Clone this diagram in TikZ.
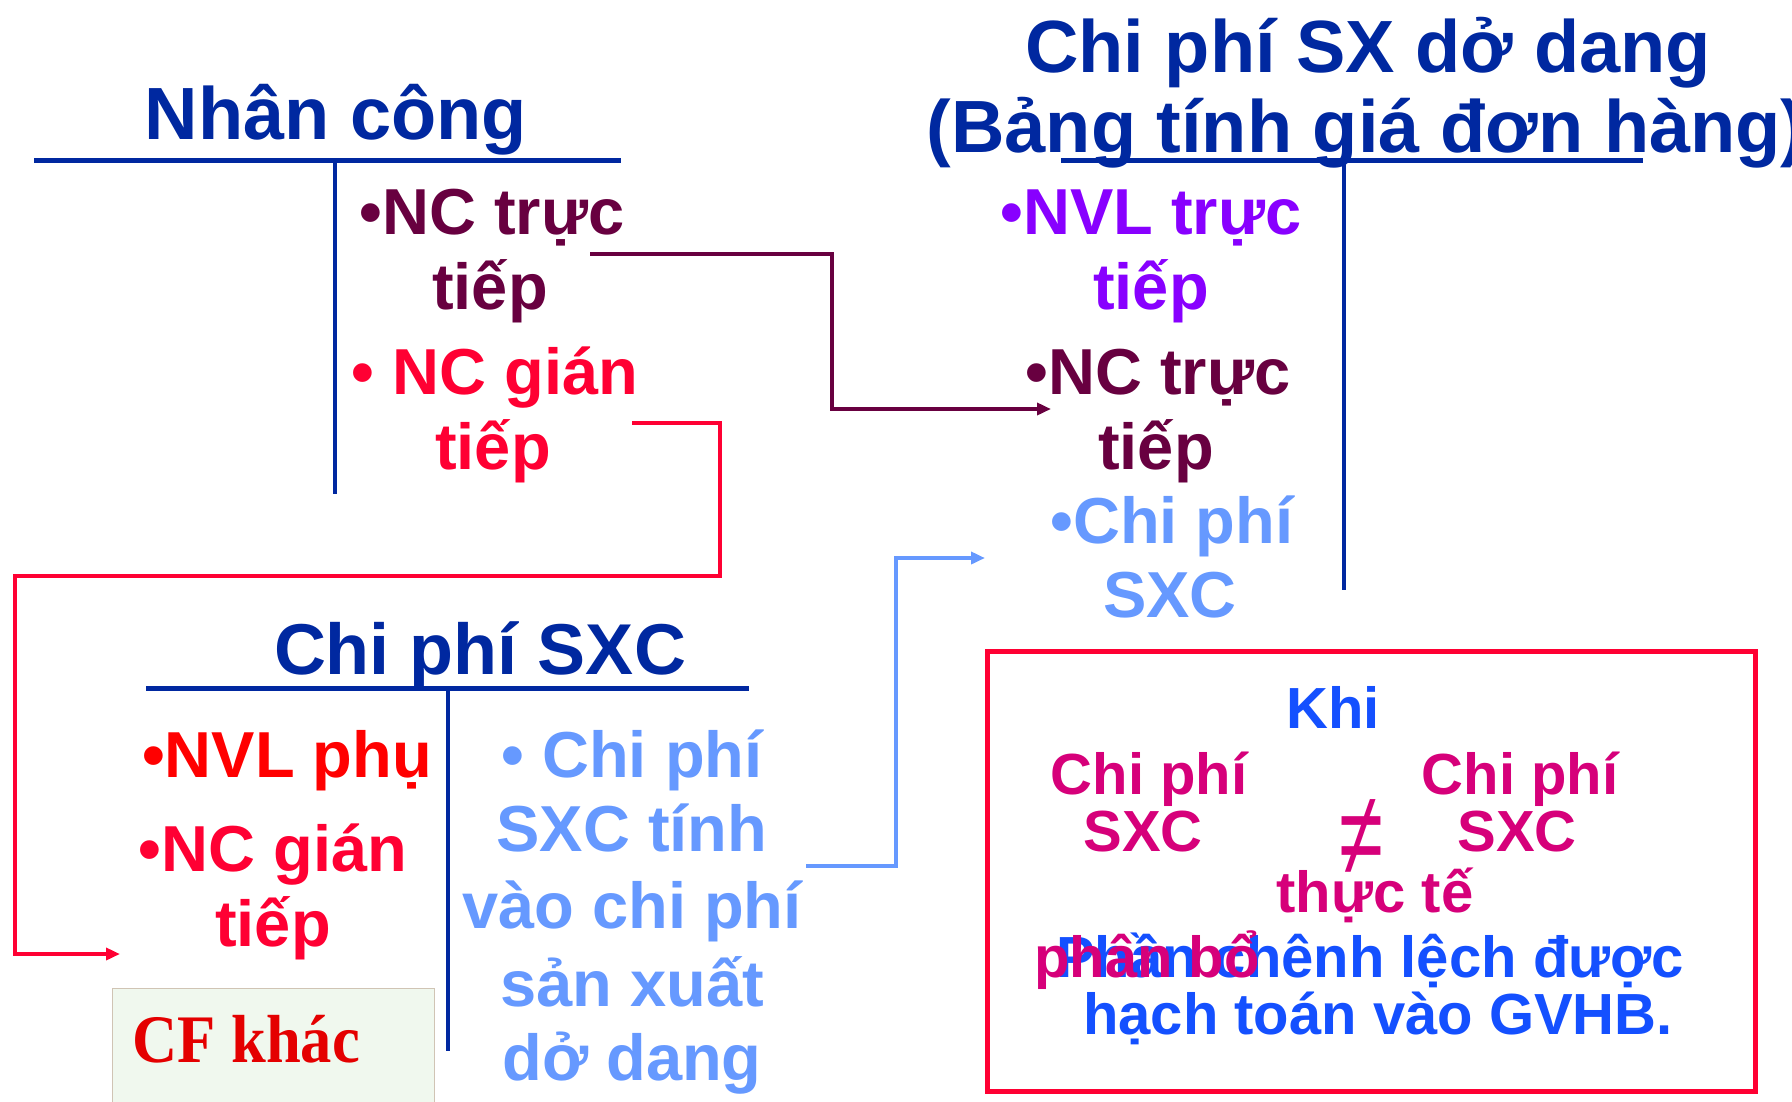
\documentclass[tikz,border=0pt]{standalone}
\usepackage{fontspec}
\setmainfont{Liberation Sans}
\newfontfamily\cfserif[FakeStretch=0.92]{Liberation Serif}
\usetikzlibrary{arrows.meta}

\definecolor{titleblue}{RGB}{0,40,160}
\definecolor{plum}{RGB}{104,0,64}
\definecolor{hotred}{RGB}{255,0,51}
\definecolor{purered}{RGB}{255,0,0}
\definecolor{violetc}{RGB}{136,0,255}
\definecolor{skyblue}{RGB}{102,153,255}
\definecolor{boxblue}{RGB}{20,80,255}
\definecolor{magentac}{RGB}{214,0,122}
\definecolor{cfred}{RGB}{228,0,0}
\definecolor{cfbg}{RGB}{240,248,238}
\definecolor{cfedge}{RGB}{208,196,180}

\newcommand\titlesize{\fontsize{74}{80}\selectfont}
\newcommand\bodysize{\fontsize{65}{74}\selectfont}
\newcommand\boxsize{\fontsize{58}{64}\selectfont}

\begin{document}
\begin{tikzpicture}[x=1pt,y=-1pt,
  txt/.style={inner sep=0pt, anchor=base, font=\bfseries\bodysize},
  ttl/.style={inner sep=0pt, anchor=base, font=\bfseries\titlesize, text=titleblue},
  bx/.style={inner sep=0pt, anchor=base, font=\bfseries\boxsize},
  tbar/.style={draw=titleblue, line width=5pt},
  tstem/.style={draw=titleblue, line width=4pt},
  conn/.style={line width=4pt, -{Triangle[length=14pt,width=12pt]}}]

\clip (0,0) rectangle (1792,1101);
\fill[white] (0,0) rectangle (1792,1101);

% ---- T-account: Nhân công
\node[ttl] (nc-title) at (336,139) {Nhân công};
\draw[tbar] (34,160) -- (621,160);
\draw[tstem] (335,160) -- (335,494);
\node[txt, text=plum] (nc-dir1) at (492,234) {•NC trực};
\node[txt, text=plum] (nc-dir2) at (490,309) {tiếp};
\node[txt, text=hotred] (nc-ind1) at (495,394) {• NC gián};
\node[txt, text=hotred] (nc-ind2) at (493,469) {tiếp};

% ---- T-account: Chi phí SX dở dang
\node[ttl] (wip-title1) at (1368,72) {Chi phí SX dở dang};
\node[ttl] (wip-title2) at (1366,152) {(Bảng tính giá đơn hàng)};
\draw[tbar] (1061,160) -- (1643,160);
\draw[tstem] (1344,160) -- (1344,590);
\node[txt, text=violetc] (wip-mat1) at (1151,234) {•NVL trực};
\node[txt, text=violetc] (wip-mat2) at (1151,309) {tiếp};
\node[txt, text=plum] (wip-lab1) at (1158,394) {•NC trực};
\node[txt, text=plum] (wip-lab2) at (1156,469) {tiếp};
\node[txt, text=skyblue] (wip-oh1) at (1172,543) {•Chi phí};
\node[txt, text=skyblue] (wip-oh2) at (1170,617) {SXC};

% ---- T-account: Chi phí SXC
\node[ttl, font=\bfseries\fontsize{72}{80}\selectfont] (oh-title) at (480,674) {Chi phí SXC};
\draw[tbar] (146,688) -- (749,688);
\draw[tstem] (448,688) -- (448,1051);
\node[txt, text=purered] (oh-mat) at (287,777) {•NVL phụ};
\node[txt, text=hotred] (oh-lab1) at (273,871) {•NC gián};
\node[txt, text=hotred] (oh-lab2) at (273,946) {tiếp};
\node[txt, text=skyblue] (oh-app1) at (632,777) {• Chi phí};
\node[txt, text=skyblue] (oh-app2) at (632,851) {SXC tính};
\node[txt, text=skyblue] (oh-app3) at (632,928) {vào chi phí};
\node[txt, text=skyblue] (oh-app4) at (632,1006) {sản xuất};
\node[txt, text=skyblue] (oh-app5) at (632,1080) {dở dang};

% other overhead costs
\draw[draw=cfedge, line width=1pt, fill=cfbg] (112,988) rectangle (434,1120);
\node[inner sep=0pt, anchor=base west, text=cfred,
      font=\cfserif\bfseries\fontsize{68}{72}\selectfont] (cf-other) at (132,1062) {CF khác};

% ---- note box
\draw[draw=hotred, line width=5pt] (987,651) rectangle (1755,1091);
\node[bx, text=boxblue] (nb-when) at (1333,728) {Khi};
\node[bx, text=magentac] (nb-alloc1) at (1149,794) {Chi phí};
\node[bx, text=magentac] (nb-alloc2) at (1143,851) {SXC};
\node[bx, text=magentac] (nb-act1) at (1520,794) {Chi phí};
\node[bx, text=magentac] (nb-act2) at (1517,851) {SXC};
\node[inner sep=0pt, anchor=center, text=magentac,
      font=\fontsize{80}{80}\selectfont] (nb-neq) at (1361,838) {\scalebox{1}[1.5]{≠}};
\node[bx, text=magentac] (nb-act3) at (1375,912) {thực tế};
\node[bx, text=boxblue] (nb-diff1) at (1370,977) {Phần chênh lệch được};
\node[bx, text=magentac] (nb-alloc3) at (1147,977) {phân bổ};
\node[bx, text=boxblue] (nb-diff2) at (1378,1034) {hạch toán vào GVHB.};

% ---- transfers
\coordinate (lab-out) at (590,254);
\coordinate (lab-in) at (1051,409);
\draw[conn, draw=plum] (lab-out) -- ++(242,0) |- (lab-in);

\coordinate (ind-out) at (632,423);
\coordinate (ind-in) at (120,954);
\draw[conn, draw=hotred] (ind-out) -| (720,576) -- (15,576) |- (ind-in);

\coordinate (app-out) at (806,866);
\coordinate (app-in) at (985,558);
\draw[conn, draw=skyblue] (app-out) -- ++(90,0) |- (app-in);

\end{tikzpicture}
\end{document}
